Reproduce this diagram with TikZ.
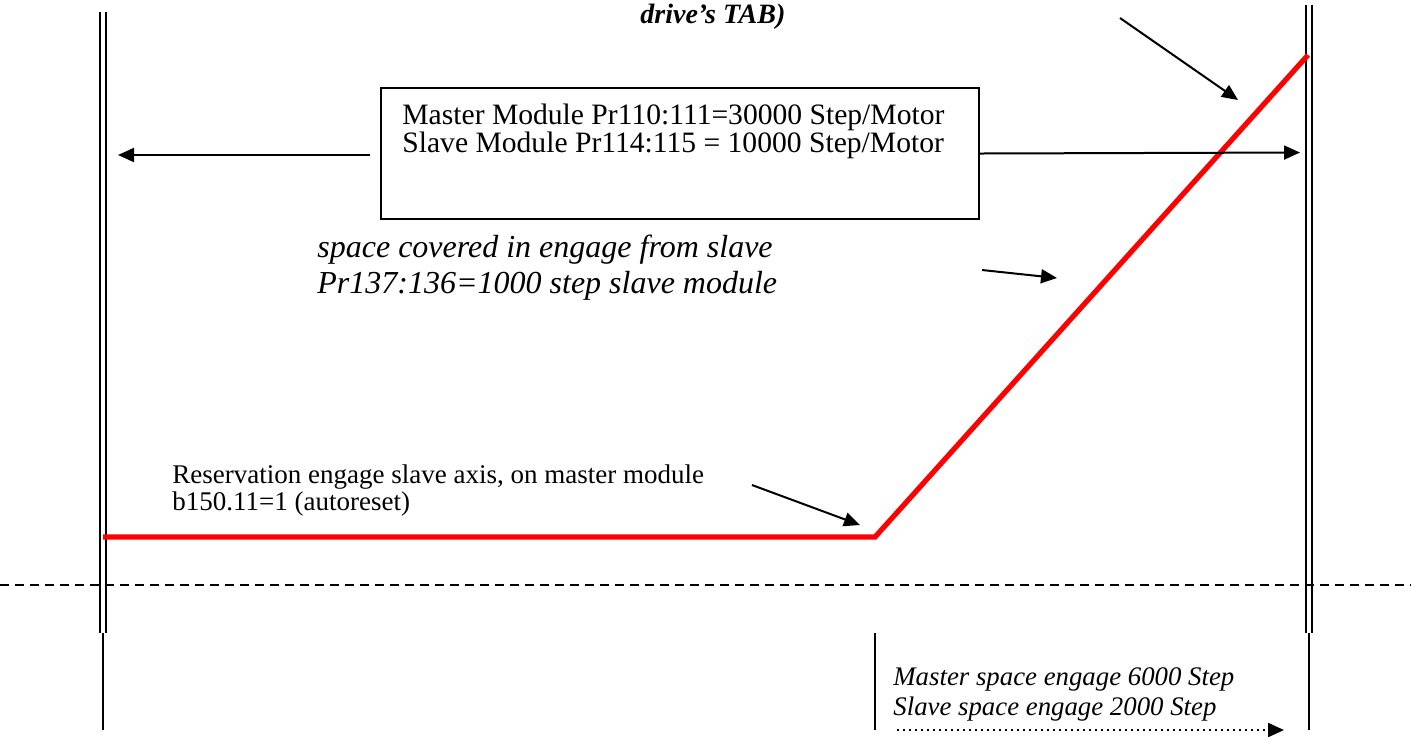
\documentclass[tikz,border=0pt]{standalone}
\usepackage{fontspec}
\setmainfont{Liberation Serif}
\usetikzlibrary{arrows.meta,positioning,calc}
\definecolor{Ink}{HTML}{000000}
\definecolor{Cam}{HTML}{FF0000}

\begin{document}
\begin{tikzpicture}[x=0.5pt,y=-0.5pt,>={Triangle[length=8pt,width=7pt]}]
\tikzset{rail/.style={line width=1pt,Ink}, camline/.style={line width=2.6pt,Cam}, arrow/.style={->,line width=1pt,Ink},
  infobox/.style={draw=Ink,line width=1pt,minimum width=299pt,minimum height=65.5pt,anchor=north west,inner sep=0pt},
  note/.style={anchor=base west,inner sep=0pt,align=left,text=Ink}}
\useasboundingbox (0,0) rectangle (1411,736);
% axes
\draw[rail] (100,12) -- (100,633);
\draw[rail] (106,12) -- (106,633);
\draw[rail] (103,633) -- (103,730);
\draw[rail] (1306,5) -- (1306,633);
\draw[rail] (1312,5) -- (1312,633);
\draw[rail] (1309,633) -- (1309,730);
\draw[rail] (875,633) -- (875,730);
\draw[line width=1pt,Ink,dash pattern=on 4.5pt off 3pt] (0,585) -- (1411,585);
% cam profile
\coordinate (start) at (103,537);
\coordinate (knee) at (875,537);
\coordinate (top) at (1308,55);
\draw[camline] (start) -- (knee) -- (top);
% texts (base = last line)
\node[note,font=\fontsize{14}{14}\selectfont\bfseries\itshape] (tab) at (640,23) {drive’s TAB)};
\node[infobox] (spec) at (380,87) {};
\node[note,font=\fontsize{14.8}{14}\selectfont] (spectext) at (402,152) {Master Module Pr110:111=30000 Step/Motor\\Slave Module Pr114:115 = 10000 Step/Motor};
\node[note,font=\fontsize{16}{18}\selectfont\itshape] (engage) at (317,293) {space covered in engage from slave\\Pr137:136=1000 step slave module};
\node[note,font=\fontsize{13.5}{13.5}\selectfont] (reserve) at (172,510) {Reservation engage slave axis, on master module\\b150.11=1 (autoreset)};
\node[note,font=\fontsize{13.4}{15}\selectfont\itshape] (space) at (893,715) {Master space engage 6000 Step\\Slave space engage 2000 Step};
% arrows
\coordinate (specout) at (370,155);
\coordinate (lefttip) at (118,155);
\coordinate (righttip) at (1300,152.5);
\coordinate (tabfrom) at (1120,18);
\coordinate (tabtip) at (1238,100);
\coordinate (engfrom) at (982,270);
\coordinate (engtip) at (1057,278);
\coordinate (resfrom) at (752,485);
\coordinate (restip) at (860,525);
\coordinate (dotfrom) at (897,730);
\coordinate (dottip) at (1284,730);
\draw[arrow] (specout) -- (lefttip);
\draw[arrow] (spec.east) -- (righttip);
\draw[arrow] (tabfrom) -- (tabtip);
\draw[arrow] (engfrom) -- (engtip);
\draw[arrow] (resfrom) -- (restip);
\draw[arrow,dotted] (dotfrom) -- (dottip);
\end{tikzpicture}
\end{document}
